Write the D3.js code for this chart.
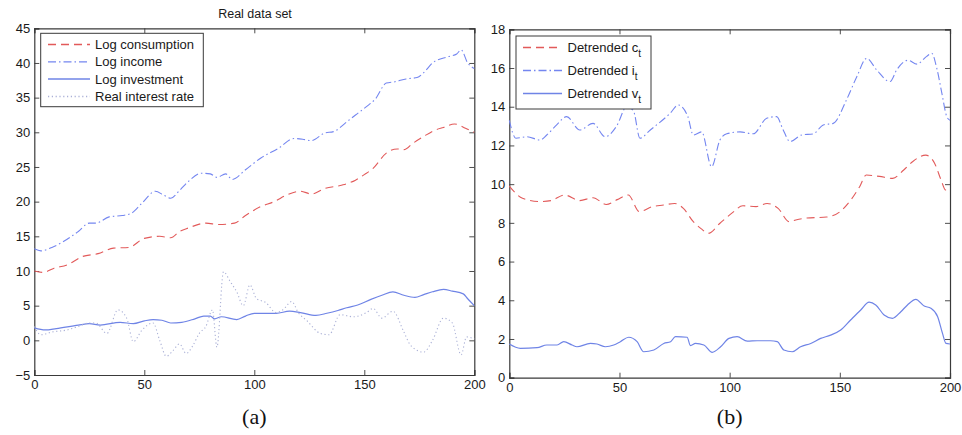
<!DOCTYPE html>
<html><head><meta charset="utf-8">
<script src="https://cdn.jsdelivr.net/npm/d3@7"></script>
<style>
body{margin:0;background:#fff;}
svg{display:block;font-family:Arial,"Liberation Sans",Helvetica,sans-serif;}
</style></head><body>
<svg id="c" width="962" height="435"></svg>
<script>
// ---------- Panel (a) data ----------
const consX = [0,4,9,15,22,29,36,43,50,57,62,66,70,78,84,91,96,103,109,115,121,126,132,140,146,150,154,160,165,168,172,177,182,186,191,196,200];
const consY = [10.0,9.8,10.4,10.9,12.1,12.5,13.3,13.4,14.7,15.0,14.8,15.7,16.2,16.9,16.7,16.9,18.0,19.3,20.0,21.0,21.5,21.1,21.9,22.4,23.1,23.9,24.8,27.0,27.6,27.5,28.4,29.4,30.3,30.7,31.2,30.6,30.0];
const incX = [0,3,8,13,20,25,28,34,40,44,49,55,59,62,66,70,76,80,83,87,90,96,103,111,118,122,126,132,136,142,146,151,155,160,164,169,174,177,181,188,192,194,197,200];
const incY = [13.2,12.9,13.4,14.2,15.7,16.9,16.9,17.8,18.0,18.3,19.8,21.5,20.9,20.5,21.6,22.9,24.1,24.0,23.5,24.0,23.2,24.6,26.3,27.7,29.1,29.0,28.8,29.9,30.1,31.5,32.5,33.7,34.8,37.1,37.3,37.7,37.9,38.6,40.0,40.9,41.3,41.9,40.0,39.2];
const invX = [0,5,10,20,25,30,39,45,50,54,58,62,67,73,77,80,82,85,92,96,100,105,110,116,121,128,133,138,142,147,153,158,163,168,173,177,181,186,190,195,197,200];
const invY = [1.8,1.5,1.7,2.2,2.4,2.2,2.6,2.4,2.8,3.0,2.9,2.5,2.6,3.1,3.5,3.5,3.1,3.4,3.0,3.5,3.9,3.9,3.9,4.2,4.0,3.6,3.9,4.3,4.7,5.1,5.9,6.5,7.0,6.5,6.2,6.6,7.0,7.35,7.1,6.7,6.0,5.0];
const rateX = [0,3,8,15,20,25,28,33,38,42,45,49,54,57,60,63,66,69,72,75,78,81,83,86,89,92,95,98,101,105,110,113,117,120,124,130,134,139,145,151,154,158,163,168,171,177,181,186,190,194,196.5,200];
const rateY = [2.0,0.8,1.2,1.5,2.0,2.5,2.5,1.0,4.4,3.2,-0.2,1.5,2.5,0.0,-2.3,-1.5,-0.5,-1.9,-0.8,1.0,2.0,4.4,-1.0,9.9,8.5,7.0,5.0,8.0,6.0,5.5,4.0,4.4,5.6,4.0,2.8,1.0,0.8,3.7,3.4,4.0,4.6,3.2,4.2,1.2,-0.7,-1.7,0.0,3.2,2.5,-2.1,0.5,0.2];
const ticksAX = [0,50,100,150,200];
const ticksAY = [-5,0,5,10,15,20,25,30,35,40,45];
const legendA = ["Log consumption","Log income","Log investment","Real interest rate"];

// ---------- Panel (b) data ----------
const dcX = [0,6,14,19,25,32,38,44,49,54,59,65,70,75,79,83.5,87,90.3,95.6,101,106,112,117,122,127,130,135,144,150,155,159,162,168,174,179,183,189,193,196,198,200];
const dcY = [9.9,9.27,9.1,9.15,9.44,9.15,9.3,8.95,9.2,9.44,8.58,8.84,8.92,9.0,8.75,8.06,7.7,7.46,7.98,8.5,8.88,8.84,9.0,8.75,8.06,8.15,8.25,8.3,8.57,9.18,9.87,10.47,10.4,10.3,10.73,11.16,11.5,11.08,10.2,9.7,9.7];
const diX = [0,3,8,14,17,21.5,26,32,38,43.5,48.7,53.3,56.3,59.3,64,73,76.7,81,83.5,87.3,91.8,95.6,98.7,104.7,110.7,116.8,121.3,124.3,127.4,132.7,138,142.5,147,153,157.7,162.2,166.7,172.8,175.8,181,185,189.4,191.7,194,196.3,198.5,200];
const diY = [13.3,12.37,12.45,12.28,12.54,13.06,13.49,12.8,13.14,12.45,13.0,14.0,13.8,12.37,12.8,13.66,14.09,13.5,12.54,12.7,10.9,12.28,12.6,12.7,12.6,13.4,13.49,12.8,12.2,12.54,12.6,13.06,13.14,14.35,15.55,16.5,15.9,15.3,15.9,16.4,16.2,16.6,16.76,15.99,14.7,13.5,13.3];
const dvX = [0,5,12.6,17,21.7,24.7,28.5,30.7,36.8,39.8,43.6,47.4,50.4,54.2,58,61,65.6,70.1,73.2,75.4,80.7,82.2,84.5,88.3,92.1,95.9,99.7,103.4,108,112.5,118.5,121.6,124.6,128.4,132.2,136.8,141.3,145.8,150.4,154.9,159.5,163.3,166.3,170.1,173.9,177.7,180.7,184.5,188.3,191.3,194.4,196.6,198.2,200];
const dvY = [1.74,1.52,1.55,1.69,1.69,1.86,1.69,1.6,1.77,1.74,1.6,1.69,1.86,2.09,1.86,1.34,1.43,1.77,1.86,2.12,2.09,1.66,1.77,1.69,1.31,1.6,2.03,2.12,1.89,1.91,1.91,1.86,1.43,1.34,1.6,1.77,2.03,2.2,2.46,2.98,3.5,3.9,3.76,3.24,3.07,3.41,3.76,4.05,3.7,3.59,3.15,2.29,1.77,1.74];
const ticksBX = [0,50,100,150,200];
const ticksBY = [0,2,4,6,8,10,12,14,16,18];
const legendB = [["Detrended c","t"],["Detrended i","t"],["Detrended v","t"]];

// ---------- styles ----------
const RED = "#e25a5a", BLUE_DD = "#7486f0", BLUE = "#6f84e6", DOT = "#aab0d6";
const styles = {
  dash:   {stroke: RED, dash: "8,5", w: 1.1},
  dashdot:{stroke: BLUE_DD, dash: "8,3,1.5,3", w: 1.1},
  solid:  {stroke: BLUE, dash: null, w: 1.2},
  dot:    {stroke: DOT, dash: "1.2,2.6", w: 1.1}
};

const svg = d3.select("#c");
const FRAME = "#3a3a3a";

function panel(opt){
  const g = svg.append("g");
  const x = d3.scaleLinear().domain([0,200]).range([opt.x0, opt.x1]);
  const y = d3.scaleLinear().domain(opt.ydom).range([opt.y1, opt.y0]);
  const tl = 5;
  const ax = [
    d3.axisBottom(x).tickValues(opt.tx).tickSize(-tl).tickPadding(5).tickFormat(d3.format("d")),
    d3.axisTop(x).tickValues(opt.tx).tickSize(-tl).tickFormat(""),
    d3.axisLeft(y).tickValues(opt.ty).tickSize(-tl).tickPadding(4).tickFormat(d=> d<0 ? "\u2212"+(-d) : d),
    d3.axisRight(y).tickValues(opt.ty).tickSize(-tl).tickFormat("")
  ];
  const tr = [`translate(0,${opt.y1})`,`translate(0,${opt.y0})`,`translate(${opt.x0},0)`,`translate(${opt.x1},0)`];
  ax.forEach((a,i)=>{
    const ag = g.append("g").attr("transform",tr[i]).call(a);
    ag.selectAll("path.domain").attr("stroke",FRAME).attr("stroke-width",1.2);
    ag.selectAll(".tick line").attr("stroke",FRAME).attr("stroke-width",0.9);
    ag.selectAll("text").attr("font-size",13).attr("fill","#1a1a1a")
      .attr("font-family","Arial, 'Liberation Sans', sans-serif");
  });
  const line = d3.line().x(d=>x(d[0])).y(d=>y(d[1])).curve(d3.curveMonotoneX);
  opt.series.forEach(s=>{
    const st = styles[s.style];
    const pts = s.xs.map((v,i)=>[v, s.ys[i]]);
    g.append("path").datum(pts).attr("d",line).attr("fill","none")
      .style("stroke",st.stroke).attr("stroke-width",st.w)
      .attr("stroke-dasharray",st.dash).attr("stroke-linejoin","round");
  });
  const L = opt.legend;
  const lg = svg.append("g");
  lg.append("rect").attr("x",L.x).attr("y",L.y).attr("width",L.w).attr("height",L.h)
    .attr("fill","#fff").attr("stroke",FRAME).attr("stroke-width",1);
  opt.series.forEach((s,i)=>{
    const st = styles[s.style];
    const cy = L.rows[i];
    lg.append("path").attr("d",`M${L.lx0},${cy}H${L.lx1}`).attr("fill","none")
      .style("stroke",st.stroke).style("stroke-width",1.35)
      .style("stroke-dasharray",st.dash || "none");
    const t = lg.append("text").attr("x",L.tx).attr("y",cy+4.5).attr("font-size",13).attr("fill","#1a1a1a");
    const lab = opt.labels[i];
    if (Array.isArray(lab)) {
      t.append("tspan").text(lab[0]);
      t.append("tspan").attr("dy",5).attr("font-size",10).text(lab[1]);
    } else t.text(lab);
  });
  svg.append("text").attr("x",(opt.x0+opt.x1)/2).attr("y",424).attr("text-anchor","middle")
    .attr("font-family","'Liberation Serif','DejaVu Serif',serif").attr("font-size",22)
    .attr("fill","#111").text(opt.caption);
  return {x,y};
}

panel({
  x0:34.3, x1:474.3, y0:28.3, y1:375, ydom:[-5,45], tx:ticksAX, ty:ticksAY,
  series:[
    {xs:consX, ys:consY, style:"dash"},
    {xs:incX, ys:incY, style:"dashdot"},
    {xs:invX, ys:invY, style:"solid"},
    {xs:rateX, ys:rateY, style:"dot"}
  ],
  labels: legendA,
  legend:{x:40.7,y:33.3,w:162.6,h:73.4,rows:[44.5,61.8,79,96.5],lx0:48,lx1:90,tx:95},
  caption:"(a)"
});

panel({
  x0:509.3, x1:950, y0:29.3, y1:377.7, ydom:[0,18], tx:ticksBX, ty:ticksBY,
  series:[
    {xs:dcX, ys:dcY, style:"dash"},
    {xs:diX, ys:diY, style:"dashdot"},
    {xs:dvX, ys:dvY, style:"solid"}
  ],
  labels: legendB,
  legend:{x:516,y:36,w:135,h:73,rows:[47.5,70.5,93.5],lx0:523,lx1:562,tx:567.5},
  caption:"(b)"
});

svg.append("text").attr("x",255).attr("y",18).attr("text-anchor","middle")
  .attr("font-size",12.5).attr("fill","#1a1a1a").text("Real data set");
</script>
</body></html>
